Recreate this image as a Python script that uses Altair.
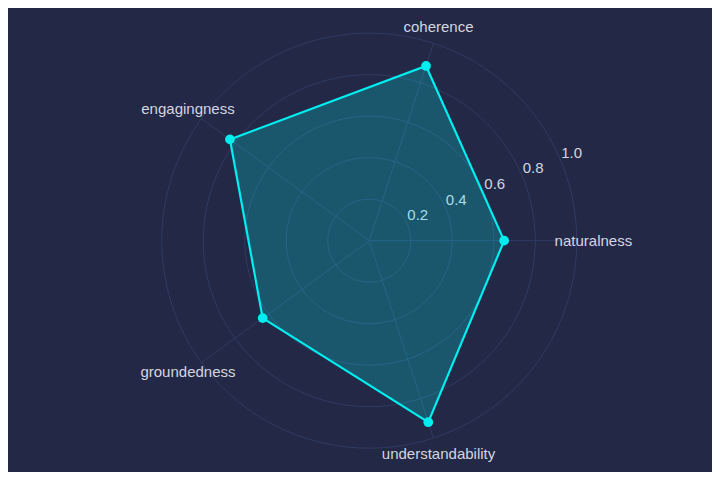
import altair as alt
import pandas as pd

categories = ["naturalness", "coherence", "engagingness", "groundedness", "understandability"]
values = [0.65, 0.885, 0.83, 0.635, 0.92]
angles_deg = [0, 72, 144, 216, 288]
ring_values = [0.2, 0.4, 0.6, 0.8, 1.0]
tick_labels = ["0.2", "0.4", "0.6", "0.8", "1.0"]
radial_axis_angle = 22
label_radius = 1.08

BG = "#222845"
GRID = "#303b62"
LINE = "#00eef0"
TEXT = "#d4d6e0"

xs = alt.Scale(domain=[-1.741, 1.6516], nice=False, zero=False)
ys = alt.Scale(domain=[-1.1147, 1.121], nice=False, zero=False)

# polygon (closed)
poly = pd.DataFrame({
    "category": categories + [categories[0]],
    "value": values + [values[0]],
    "angle": angles_deg + [360],
    "order": list(range(len(categories) + 1)),
})
pts = pd.DataFrame({"category": categories, "value": values, "angle": angles_deg})
spokes = pd.DataFrame({"category": categories, "angle": angles_deg})
rings = pd.DataFrame({"r": ring_values})
ticks = pd.DataFrame({"r": ring_values, "label": tick_labels})

X = alt.X("x:Q", scale=xs, axis=None)
Y = alt.Y("y:Q", scale=ys, axis=None)

ring_layer = alt.Chart(rings).transform_calculate(
    t="sequence(0, 361, 3)"
).transform_flatten(["t"]).transform_calculate(
    x="datum.r*cos(datum.t*PI/180)", y="datum.r*sin(datum.t*PI/180)"
).mark_line(stroke=GRID, strokeWidth=1).encode(
    x=X, y=Y, detail="r:N", order="t:Q"
)

spoke_layer = alt.Chart(spokes).transform_calculate(
    x="cos(datum.angle*PI/180)", y="sin(datum.angle*PI/180)", x0="0", y0="0"
).mark_rule(stroke=GRID, strokeWidth=1).encode(
    x=alt.X("x0:Q", scale=xs, axis=None), y=alt.Y("y0:Q", scale=ys, axis=None),
    x2="x:Q", y2="y:Q"
)

tick_layer = alt.Chart(ticks).transform_calculate(
    x=f"datum.r*cos({radial_axis_angle}*PI/180)", y=f"datum.r*sin({radial_axis_angle}*PI/180)"
).mark_text(color=TEXT, font="Liberation Sans", fontSize=15, dx=10, dy=-10,
            align="center", baseline="middle").encode(x=X, y=Y, text="label:N")

poly_layer = alt.Chart(poly).transform_calculate(
    x="datum.value*cos(datum.angle*PI/180)", y="datum.value*sin(datum.angle*PI/180)"
).mark_line(stroke=LINE, strokeWidth=2.2, fill="#00ffff", fillOpacity=0.22).encode(
    x=X, y=Y, order="order:Q"
)

pt_layer = alt.Chart(pts).transform_calculate(
    x="datum.value*cos(datum.angle*PI/180)", y="datum.value*sin(datum.angle*PI/180)"
).mark_point(filled=True, color=LINE, size=95, opacity=1).encode(x=X, y=Y)

label_layer = alt.Chart(spokes).transform_calculate(
    x=f"{label_radius}*cos(datum.angle*PI/180)", y=f"{label_radius}*sin(datum.angle*PI/180)"
).mark_text(color=TEXT, font="Liberation Sans", fontSize=15,
            align="center", baseline="middle").encode(x=X, y=Y, text="category:N")

chart = alt.layer(
    ring_layer, spoke_layer, tick_layer, poly_layer, pt_layer, label_layer
).properties(
    width=704, height=464, autosize=alt.AutoSizeParams(type="none"), padding=0,
    background=BG
).configure_view(stroke=None)

chart.save("out.html", embed_options={"renderer": "svg", "actions": False})
